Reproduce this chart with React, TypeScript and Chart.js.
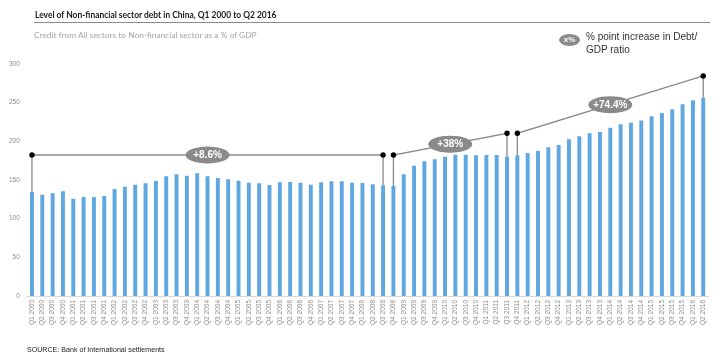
import React, { useEffect, useRef } from "react";
import { Chart, registerables } from "chart.js";

Chart.register(...registerables);

const categories = [
  "Q1 2000", "Q2 2000", "Q3 2000", "Q4 2000",
  "Q1 2001", "Q2 2001", "Q3 2001", "Q4 2001",
  "Q1 2002", "Q2 2002", "Q3 2002", "Q4 2002",
  "Q1 2003", "Q2 2003", "Q3 2003", "Q4 2003",
  "Q1 2004", "Q2 2004", "Q3 2004", "Q4 2004",
  "Q1 2005", "Q2 2005", "Q3 2005", "Q4 2005",
  "Q1 2006", "Q2 2006", "Q3 2006", "Q4 2006",
  "Q1 2007", "Q2 2007", "Q3 2007", "Q4 2007",
  "Q1 2008", "Q2 2008", "Q3 2008", "Q4 2008",
  "Q1 2009", "Q2 2009", "Q3 2009", "Q4 2009",
  "Q1 2010", "Q2 2010", "Q3 2010", "Q4 2010",
  "Q1 2011", "Q2 2011", "Q3 2011", "Q4 2011",
  "Q1 2012", "Q2 2012", "Q3 2012", "Q4 2012",
  "Q1 2013", "Q2 2013", "Q3 2013", "Q4 2013",
  "Q1 2014", "Q2 2014", "Q3 2014", "Q4 2014",
  "Q1 2015", "Q2 2015", "Q3 2015", "Q4 2015",
  "Q1 2016", "Q2 2016",
];

const debtToGdp = [
  134.5, 131.0, 132.8, 135.4,
  125.8, 128.0, 128.0, 129.3,
  138.4, 141.4, 144.0, 145.7,
  148.7, 154.8, 157.4, 155.6,
  158.7, 154.8, 152.6, 150.9,
  149.1, 146.5, 145.7, 143.5,
  147.0, 147.4, 146.5, 144.0,
  147.0, 148.3, 148.3, 146.5,
  146.1, 144.4, 143.1, 142.2,
  157.4, 168.5, 174.2, 176.8,
  180.2, 182.8, 182.8, 181.9,
  182.3, 182.3, 180.2, 182.1,
  184.9, 187.9, 192.3, 195.3,
  202.6, 206.7, 210.6, 212.1,
  217.7, 222.2, 223.9, 227.0,
  232.4, 236.6, 241.4, 247.9,
  253.1, 256.5,
];

const yTickValues = [0, 50, 100, 150, 200, 250, 300];

// Bracket annotations: start/end category index and marker levels
const bracketStart = [0, 35, 47];
const bracketEnd = [34, 46, 65];
const bracketStartLevel = [182.3, 182.3, 210.4];
const bracketEndLevel = [182.3, 210.4, 284.5];
const bracketLabels = ["+8.6%", "+38%", "+74.4%"];

const BAR_COLOR = "#5fa7e1";

const bracketPlugin = {
  id: "brackets",
  afterDatasetsDraw(chart: any) {
    const { ctx } = chart;
    const xs = chart.scales.x;
    const ys = chart.scales.y;
    ctx.save();
    for (let i = 0; i < bracketStart.length; i++) {
      const x1 = xs.getPixelForValue(bracketStart[i]);
      const x2 = xs.getPixelForValue(bracketEnd[i]);
      const y1 = ys.getPixelForValue(bracketStartLevel[i]);
      const y2 = ys.getPixelForValue(bracketEndLevel[i]);
      const b1 = ys.getPixelForValue(debtToGdp[bracketStart[i]]);
      const b2 = ys.getPixelForValue(debtToGdp[bracketEnd[i]]);
      ctx.strokeStyle = "#8a8a8a";
      ctx.lineWidth = 1.3;
      ctx.beginPath();
      ctx.moveTo(x1, b1);
      ctx.lineTo(x1, y1);
      ctx.lineTo(x2, y2);
      ctx.lineTo(x2, b2);
      ctx.stroke();
      ctx.fillStyle = "#000";
      for (const [px, py] of [[x1, y1], [x2, y2]]) {
        ctx.beginPath();
        ctx.arc(px, py, 2.7, 0, Math.PI * 2);
        ctx.fill();
      }
    }
    for (let i = 0; i < bracketStart.length; i++) {
      const x1 = xs.getPixelForValue(bracketStart[i]);
      const x2 = xs.getPixelForValue(bracketEnd[i]);
      const y1 = ys.getPixelForValue(bracketStartLevel[i]);
      const y2 = ys.getPixelForValue(bracketEndLevel[i]);
      const cx = (x1 + x2) / 2;
      const cy = (y1 + y2) / 2;
      ctx.fillStyle = "#8a8a8a";
      ctx.beginPath();
      ctx.ellipse(cx, cy, 22, 8.5, 0, 0, Math.PI * 2);
      ctx.fill();
      ctx.fillStyle = "#ffffff";
      ctx.font = "bold 10px 'Liberation Sans', Arial, sans-serif";
      ctx.textAlign = "center";
      ctx.textBaseline = "middle";
      ctx.fillText(bracketLabels[i], cx, cy + 0.5);
    }
    ctx.restore();
  },
};

export default function App() {
  const canvasRef = useRef<HTMLCanvasElement | null>(null);

  useEffect(() => {
    if (!canvasRef.current) return;
    const chart = new Chart(canvasRef.current, {
      type: "bar",
      data: {
        labels: categories,
        datasets: [
          {
            data: debtToGdp,
            backgroundColor: BAR_COLOR,
            borderWidth: 0,
            barPercentage: 0.38,
            categoryPercentage: 1,
          },
        ],
      },
      options: {
        responsive: false,
        animation: false,
        layout: { padding: { left: 0, right: 11.6, top: 64, bottom: 0 } },
        plugins: {
          legend: { display: false },
          tooltip: { enabled: false },
          title: { display: false },
        },
        scales: {
          x: {
            offset: true,
            grid: { display: false, drawTicks: false },
            border: { display: true, color: "#d9d9d9", width: 1 },
            ticks: {
              autoSkip: false,
              maxRotation: 90,
              minRotation: 90,
              padding: 4,
              color: "#8c8c8c",
              font: { family: "'Liberation Sans', Arial, sans-serif", size: 6.5 },
            },
            afterFit: (scale: any) => {
              scale.height = 65;
            },
          },
          y: {
            min: 0,
            max: 300,
            afterBuildTicks: (scale: any) => {
              scale.ticks = yTickValues.map((v) => ({ value: v }));
            },
            grid: { display: false, drawTicks: false },
            border: { display: false },
            ticks: {
              padding: 7,
              color: "#8c8c8c",
              font: { family: "'Liberation Sans', Arial, sans-serif", size: 6.5 },
            },
            afterFit: (scale: any) => {
              scale.width = 26.8;
            },
          },
        },
      },
      plugins: [bracketPlugin],
    });
    return () => chart.destroy();
  }, []);

  const abs: React.CSSProperties = { position: "absolute", whiteSpace: "nowrap" };

  return (
    <div style={{ position: "absolute", left: 0, top: 0, width: 720, height: 361, background: "#fff", overflow: "hidden" }}>
      <canvas ref={canvasRef} width={720} height={361} style={{ position: "absolute", left: 0, top: 0 }} />
      <div style={{ ...abs, left: 35, top: 9, fontFamily: "Lato, sans-serif", fontWeight: 700, fontSize: 8.45, lineHeight: "12px", color: "#1a1a1a" }}>
        Level of Non-financial sector debt in China, Q1 2000 to Q2 2016
      </div>
      <div style={{ position: "absolute", left: 34, top: 21.5, width: 676, height: 1, background: "#8a8a8a" }} />
      <div style={{ ...abs, left: 34, top: 29, fontFamily: "Lato, sans-serif", fontSize: 8.4, lineHeight: "12px", color: "#a3a3a3" }}>
        Credit from All sectors to Non-financial sector as a % of GDP
      </div>
      <div style={{ position: "absolute", left: 559, top: 34, width: 21, height: 12, borderRadius: "50%", background: "#8a8a8a", color: "#fff", fontFamily: "'Liberation Sans', Arial, sans-serif", fontWeight: 700, fontSize: 8, lineHeight: "12px", textAlign: "center" }}>
        x%
      </div>
      <div style={{ ...abs, left: 586, top: 29.5, fontFamily: "'Liberation Sans', Arial, sans-serif", fontSize: 10, lineHeight: "13px", color: "#333" }}>
        % point increase in Debt/
        <br />
        GDP ratio
      </div>
      <div style={{ ...abs, left: 27, top: 345, fontFamily: "'Liberation Sans', Arial, sans-serif", fontSize: 7.1, lineHeight: "11px", color: "#222" }}>
        SOURCE: Bank of International settlements
      </div>
    </div>
  );
}
